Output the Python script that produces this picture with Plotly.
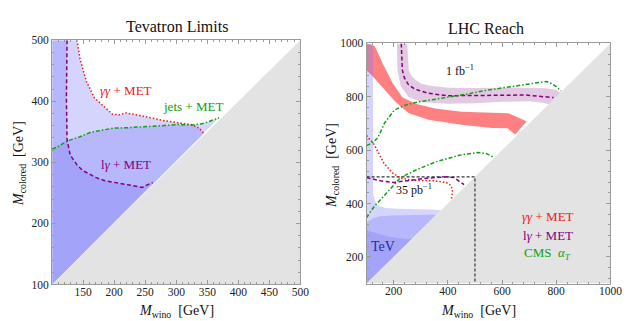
import plotly.graph_objects as go

# ---------------- Tevatron limits (left panel) ----------------
tev_range = [100, 500]

gg_tev_x = [140, 145, 155, 168, 184, 197, 208, 219, 240, 261, 282, 303, 324, 337, 345]
gg_tev_y = [500, 469, 433, 406, 391, 379, 378, 381, 377, 372, 368, 365, 362, 356, 347]

jets_tev_x = [100, 108, 124, 145, 161, 180, 198, 225, 250, 275, 303, 324, 340, 350, 369]
jets_tev_y = [322, 325, 335, 342, 349, 353, 356, 357, 358, 360, 362, 361, 363, 366, 373]

lg_tev_x = [124, 123, 123, 124, 129, 140, 150, 160, 171, 185, 198, 212, 224, 235, 245, 255, 262]
lg_tev_y = [500, 450, 406, 338, 312, 296, 286, 281, 275, 270, 267, 265, 263, 261, 259, 264, 267]

# ---------------- LHC reach (right panel) ----------------
lhc_range = [100, 1000]

# Tevatron excluded regions as seen on the LHC plot
tev1_x = [100, 100, 124, 124, 130, 142, 170, 210, 330, 375]
tev1_y = [100, 1000, 1000, 440, 410, 393, 383, 380, 378, 375]
tev2_x = [100, 100, 112, 125, 150, 200, 280, 357]
tev2_y = [100, 330, 336, 346, 352, 355, 357, 358]
tev3_x = [100, 100, 130, 180, 240, 268]
tev3_y = [100, 300, 290, 276, 267, 268]

# gamma gamma + MET, 1 fb^-1 band
gg_band_up_x = [100, 130, 160, 196, 232, 280, 353, 450, 563, 623, 666, 691]
gg_band_up_y = [1000, 990, 924, 852, 798, 774, 756, 744, 740, 738, 720, 707]
gg_band_lo_x = [100, 123, 160, 208, 256, 329, 450, 563, 620, 648]
gg_band_lo_y = [900, 876, 834, 780, 738, 714, 695, 683, 682, 659]

# l gamma + MET, 1 fb^-1 band and central line
lg_band_out_x = [250, 256, 265, 280, 300, 329, 401, 500, 600, 700, 760, 800, 815]
lg_band_out_y = [1000, 900, 880, 864, 850, 842, 834, 833, 834, 834, 832, 826, 815]
lg_band_in_x = [212, 214, 226, 256, 305, 401, 500, 600, 700, 750, 780]
lg_band_in_y = [1000, 900, 840, 798, 780, 774, 776, 781, 783, 778, 770]
lg1_x = [228, 229, 232, 240, 255, 280, 329, 400, 510, 630, 684, 740, 790]
lg1_y = [1000, 950, 900, 870, 845, 828, 813, 804, 804, 806, 807, 803, 797]

# CMS alpha_T
cms1_x = [100, 125, 142, 166, 202, 240, 287, 350, 407, 470, 528, 590, 649, 700, 745, 765, 782, 800, 818]
cms1_y = [617, 630, 647, 701, 750, 768, 780, 790, 798, 810, 822, 832, 840, 848, 855, 857, 850, 838, 822]
cms35_x = [100, 128, 177, 225, 285, 358, 442, 508, 540, 570]
cms35_y = [347, 389, 443, 497, 527, 557, 581, 591, 588, 573]

# 35 pb^-1 curves
gg35_x = [100, 128, 164, 195, 225, 273, 346, 394, 412, 418, 412]
gg35_y = [655, 621, 551, 515, 495, 487, 485, 479, 467, 443, 415]
lg35_x = [100, 152, 201, 261, 322, 394, 424, 442, 460]
lg35_y = [497, 485, 479, 487, 495, 500, 497, 483, 471]

box_x = [100, 500, 500]
box_y = [500, 500, 100]

SERIF = "Liberation Serif, Times New Roman, serif"
RED = "#f01818"
PURPLE = "#800080"
GREEN = "#10a010"
BLUE_FILL = "rgba(120,120,248,0.32)"
GREY = "#e3e3e3"
DOT = "1.5px,2px"
DASH = "4px,2.5px"
DASHDOT = "4px,2px,1.5px,2px"

fig = go.Figure()


def region(x, y, color, xa, ya):
    fig.add_trace(go.Scatter(x=x, y=y, fill="toself", fillcolor=color, mode="none",
                             xaxis=xa, yaxis=ya, hoverinfo="skip"))


def curve(x, y, color, dash, xa, ya, width=1.5):
    fig.add_trace(go.Scatter(x=x, y=y, mode="lines", line=dict(color=color, dash=dash, width=width),
                             xaxis=xa, yaxis=ya, hoverinfo="skip"))


def below_diag(rng):
    lo, hi = rng
    return [lo, hi, hi], [lo, hi, lo]


# left panel
lo, hi = tev_range
region([lo] + gg_tev_x + [lo], [hi] + gg_tev_y + [lo], BLUE_FILL, "x", "y")
region(jets_tev_x + [lo], jets_tev_y + [lo], BLUE_FILL, "x", "y")
region([lo] + lg_tev_x + [lo], [hi] + lg_tev_y + [lo], BLUE_FILL, "x", "y")
gx, gy = below_diag(tev_range)
region(gx, gy, GREY, "x", "y")
curve(gg_tev_x, gg_tev_y, RED, DOT, "x", "y")
curve(jets_tev_x, jets_tev_y, GREEN, DASHDOT, "x", "y")
curve(lg_tev_x, lg_tev_y, PURPLE, DASH, "x", "y")

# right panel
region(gg_band_up_x + gg_band_lo_x[::-1], gg_band_up_y + gg_band_lo_y[::-1], "#ff8080", "x2", "y2")
region(lg_band_out_x + lg_band_in_x[::-1], lg_band_out_y + lg_band_in_y[::-1], "#e2cae2", "x2", "y2")
region(tev1_x, tev1_y, BLUE_FILL, "x2", "y2")
region(tev2_x, tev2_y, BLUE_FILL, "x2", "y2")
region(tev3_x, tev3_y, BLUE_FILL, "x2", "y2")
gx, gy = below_diag(lhc_range)
region(gx, gy, GREY, "x2", "y2")
curve(box_x, box_y, "#333333", "3px,2px", "x2", "y2", width=1.2)
curve(lg1_x, lg1_y, PURPLE, DASH, "x2", "y2")
curve(cms1_x, cms1_y, GREEN, DASHDOT, "x2", "y2")
curve(cms35_x, cms35_y, GREEN, DASHDOT, "x2", "y2")
curve(gg35_x, gg35_y, RED, DOT, "x2", "y2")
curve(lg35_x, lg35_y, PURPLE, DASH, "x2", "y2")

axis_common = dict(showgrid=False, zeroline=False, showline=True, linecolor="#9a9a9a", linewidth=1,
                   mirror="ticks", ticks="inside", ticklen=4, tickcolor="#9a9a9a",
                   tickfont=dict(family=SERIF, size=11.5, color="#222"),
                   minor=dict(ticks="inside", ticklen=2, tickcolor="#9a9a9a"))

fig.update_layout(
    width=634, height=321, margin=dict(l=0, r=0, t=0, b=0),
    paper_bgcolor="white", plot_bgcolor="white", showlegend=False,
    xaxis=dict(axis_common, domain=[0.0710, 0.4700], range=tev_range, ticklabelstandoff=-3,
               tickvals=[150, 200, 250, 300, 350, 400, 450, 500], minor=dict(axis_common["minor"], dtick=10)),
    yaxis=dict(axis_common, domain=[0.1246, 0.9150], range=tev_range,
               tickvals=[100, 200, 300, 400, 500], minor=dict(axis_common["minor"], dtick=20)),
    xaxis2=dict(axis_common, domain=[0.5765, 0.9685], range=lhc_range, anchor="y2", ticklabelstandoff=-3,
                tickvals=[200, 400, 600, 800, 1000], minor=dict(axis_common["minor"], dtick=40)),
    yaxis2=dict(axis_common, domain=[0.1277, 0.9047], range=lhc_range, anchor="x2",
                tickvals=[200, 400, 600, 800, 1000], minor=dict(axis_common["minor"], dtick=40)),
)


def label(text, x, y, color, size=13, xref="x", yref="y", angle=0):
    fig.add_annotation(text=text, x=x, y=y, xref=xref, yref=yref, showarrow=False, textangle=angle,
                       xanchor="center", yanchor="middle",
                       font=dict(family=SERIF, size=size, color=color))


# titles and axis labels
label("Tevatron Limits", 172 / 634, 1 - 13 / 321, "#111", 16, "paper", "paper")
label("LHC Reach", 487 / 634, 1 - 15 / 321, "#111", 16, "paper", "paper")
xt = "<i>M</i><sub>wino</sub>&nbsp;&nbsp;[GeV]"
yt = "<i>M</i><sub>colored</sub>&nbsp;&nbsp;[GeV]"
label(xt, 172 / 634, 1 - 309 / 321, "#111", 14, "paper", "paper")
label(xt, 480 / 634, 1 - 309 / 321, "#111", 14, "paper", "paper")
label(yt, 11 / 634, 1 - 155 / 321, "#111", 14, "paper", "paper", -90)
label(yt, 330 / 634, 1 - 157 / 321, "#111", 14, "paper", "paper", -90)

# in-plot labels
label("<i>γγ</i> + MET", 219, 418, RED)
label("jets + MET", 327, 392, GREEN)
label("l<i>γ</i> + MET", 219, 296, PURPLE)

label("1 fb<sup>−1</sup>", 443, 900, "#111", 12, "x2", "y2")
label("35 pb<sup>−1</sup>", 275, 452, "#111", 12, "x2", "y2")
label("TeV", 160, 238, "#2a2aa0", 14, "x2", "y2")
label("<i>γγ</i> + MET", 769, 350, RED, 13, "x2", "y2")
label("l<i>γ</i> + MET", 769, 281, PURPLE, 13, "x2", "y2")
label("CMS&nbsp;&nbsp;<i>α<sub>T</sub></i>", 769, 214, GREEN, 13, "x2", "y2")

fig.write_html("out.html")
